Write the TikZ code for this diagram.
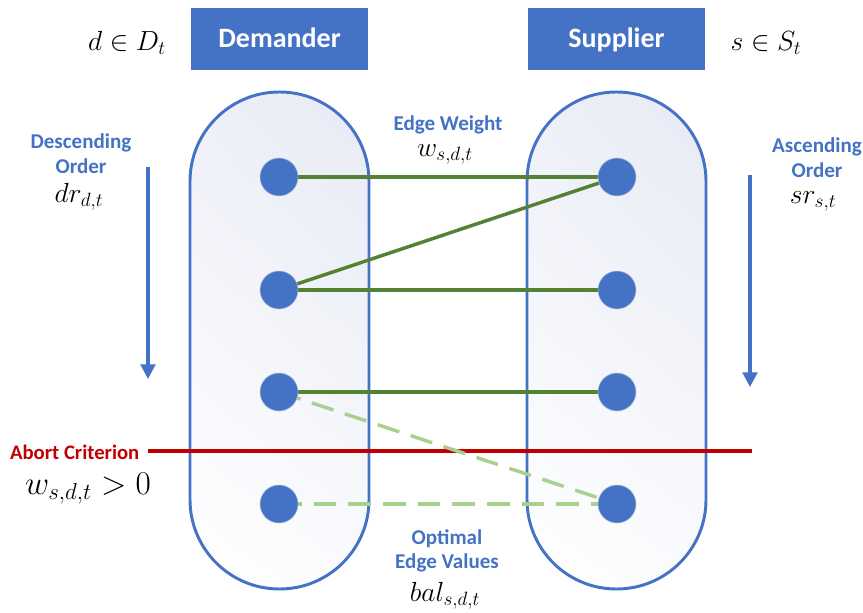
\documentclass[tikz,border=0pt]{standalone}
\usepackage{fontspec}
\setmainfont{Carlito}
\usetikzlibrary{arrows.meta,shadings}
\definecolor{mblue}{HTML}{4472C4}
\definecolor{dgreen}{HTML}{548235}
\definecolor{lgreen}{HTML}{A9D18E}
\definecolor{mred}{HTML}{C00000}
\definecolor{capA}{HTML}{E7EAF5}
\definecolor{capB}{HTML}{EEF0F8}
\definecolor{capC}{HTML}{FAFBFD}
\tikzset{
  headbox/.style={fill=mblue, text=white, font=\fontsize{21}{24}\selectfont\bfseries, minimum width=132.75pt, minimum height=46.5pt, inner sep=0pt, text height=13.5pt, text depth=0pt},
  capsule/.style={draw=mblue, line width=2.2pt, rounded corners=67pt, minimum width=134.25pt, minimum height=372.75pt, inner sep=0pt,
     upper left=capB, upper right=capA, lower left=white, lower right=capC},
  dot/.style={circle, fill=mblue, draw=mblue!60!gray!50, line width=0.4pt, minimum size=28.5pt, inner sep=0pt},
  solidedge/.style={dgreen, line width=2.6pt},
  dashedge/.style={lgreen, line width=2.6pt, dash pattern=on 17pt off 9pt},
  bluelabel/.style={text=mblue, font=\fontsize{15.8}{18.5}\selectfont\bfseries, align=center},
  mathlabel/.style={font=\fontsize{22}{26}\selectfont},
  orderarrow/.style={draw=mblue, line width=2.4pt, -{Triangle[length=11pt, width=11pt]}},
}
\begin{document}
\begin{tikzpicture}[x=0.75pt, y=-0.75pt]
\useasboundingbox (0,0) rectangle (863,613);
% header
\node[headbox] (dem) at (279.5,39) {Demander};
\node[headbox] (sup) at (616.5,39) {Supplier};
\node[mathlabel] (dset) at (127,43) {$d\in D_t$};
\node[mathlabel] (sset) at (766,43) {$s\in S_t$};
% capsules
\node[capsule] (lcap) at (279.5,340.5) {};
\node[capsule] (rcap) at (616.5,340.5) {};
% dot positions
\coordinate (l1) at (279,177);
\coordinate (l2) at (279,290);
\coordinate (l3) at (279,392);
\coordinate (l4) at (279,504);
\coordinate (r1) at (617,177);
\coordinate (r2) at (617,290);
\coordinate (r3) at (617,392);
\coordinate (r4) at (617,504);
% edges
\draw[solidedge] (l1) -- (r1);
\draw[solidedge] (l2) -- (r1);
\draw[solidedge] (l2) -- (r2);
\draw[solidedge] (l3) -- (r3);
% abort line
\coordinate (abL) at (148,451);
\coordinate (abR) at (752,451);
\draw[mred, line width=2.4pt] (abL) -- (abR);
\draw[dashedge] (l3) -- (r4);
\draw[dashedge] (l4) -- (r4);
% dots on top
\foreach \n in {l1,l2,l3,l4,r1,r2,r3,r4}{\node[dot] (d\n) at (\n) {};}
% order arrows
\coordinate (la1) at (148,167);
\coordinate (la2) at (148,379);
\coordinate (ra1) at (750,175);
\coordinate (ra2) at (750,387);
\draw[orderarrow] (la1) -- (la2);
\draw[orderarrow] (ra1) -- (ra2);
% labels
\node[bluelabel] (desc) at (81,154) {Descending\\Order};
\node[mathlabel] (dr) at (79,197) {$dr_{d,t}$};
\node[bluelabel] (asc) at (817,158) {Ascending\\Order};
\node[mathlabel] (sr) at (813,201) {$sr_{s,t}$};
\node[bluelabel] (ew) at (448,125) {Edge Weight};
\node[mathlabel] (ewm) at (445,154) {$w_{s,d,t}$};
\node[bluelabel] (opt) at (447,551) {Optimal\\Edge Values};
\node[mathlabel] (bal) at (445,596) {$bal_{s,d,t}$};
\node[text=mred, font=\fontsize{15.5}{18}\selectfont\bfseries, anchor=east] (abort) at (144,452) {Abort Criterion};
\node[font=\fontsize{23.5}{26}\selectfont] (crit) at (88,489) {$w_{s,d,t}>0$};
\end{tikzpicture}
\end{document}
